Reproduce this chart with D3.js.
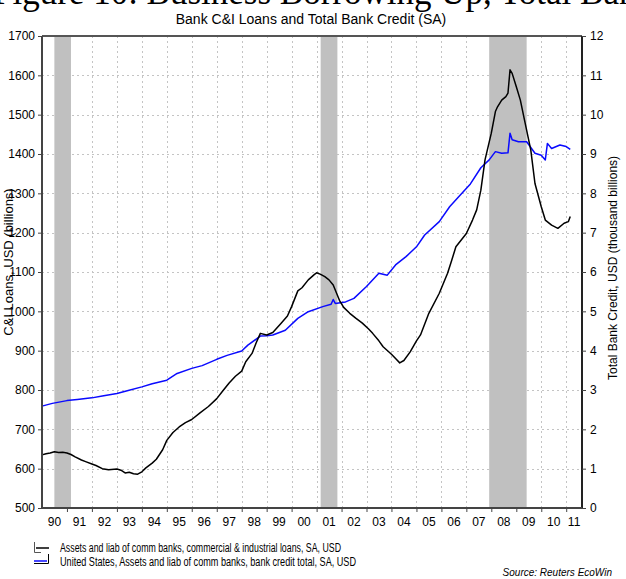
<!DOCTYPE html>
<html>
<head>
<meta charset="utf-8">
<script src="https://cdn.jsdelivr.net/npm/d3@7"></script>
<style>
  html, body { margin: 0; padding: 0; background: #fff; }
  svg { display: block; font-family: "Liberation Sans", Arial, sans-serif; }
</style>
</head>
<body>
<svg id="chart" width="626" height="579"></svg>
<script>
// ---------- DATA ----------
const loanDates = ["1990-01","1990-03","1990-05","1990-07","1990-09","1990-11","1991-01","1991-03","1991-05","1991-08","1991-10",
  "1992-01","1992-03","1992-06","1992-09","1993-01","1993-03","1993-05","1993-07","1993-09","1993-11",
  "1994-01","1994-03","1994-06","1994-08","1994-11","1995-01","1995-04","1995-07","1995-10",
  "1996-01","1996-05","1996-09","1997-01","1997-04","1997-07","1997-10","1998-01","1998-03","1998-06","1998-08","1998-10",
  "1999-01","1999-04","1999-08","1999-11","2000-01","2000-04","2000-06","2000-09","2000-12",
  "2001-01","2001-03","2001-05","2001-07","2001-09","2001-12","2002-02","2002-05","2002-08","2002-11",
  "2003-02","2003-04","2003-07","2003-09","2004-01","2004-03","2004-05","2004-07","2004-10",
  "2005-01","2005-03","2005-07","2005-12","2006-04","2006-06","2006-08","2007-01","2007-04","2007-06","2007-08","2007-10",
  "2008-01","2008-03","2008-04","2008-06","2008-08","2008-09","2008-10","2008-11",
  "2009-01","2009-03","2009-05","2009-08","2009-10","2010-01","2010-03","2010-06","2010-09","2010-12","2011-02","2011-03"];
const loanValues = [635,638,640,643,641,642,640,636,630,622,618,
  612,608,600,597,599,596,589,591,587,586,
  592,602,614,624,648,672,692,706,717,
  725,742,758,778,798,818,835,848,872,893,920,944,
  940,946,970,988,1012,1052,1060,1080,1094,
  1098,1094,1088,1080,1067,1028,1010,995,982,970,
  955,944,925,910,891,880,869,875,897,
  925,940,995,1046,1097,1130,1164,1198,1232,1258,1308,1385,
  1453,1508,1520,1537,1546,1555,1614,1605,
  1571,1537,1486,1410,1325,1266,1232,1219,1211,1224,1228,1241];

const creditDates = ["1990-01","1990-06","1991-01","1991-06","1992-01","1992-06","1993-01","1993-06","1994-01","1994-06",
  "1995-01","1995-06","1996-01","1996-06","1997-01","1997-06","1998-01","1998-04","1998-10",
  "1999-01","1999-04","1999-10","2000-04","2000-09","2001-04","2001-08","2001-09","2001-10",
  "2002-03","2002-07","2003-01","2003-07","2003-11","2004-03","2004-08","2005-01","2005-05","2005-12",
  "2006-05","2006-10","2007-03","2007-08","2007-12","2008-03","2008-06","2008-09","2008-10","2008-11",
  "2009-02","2009-06","2009-10","2010-01","2010-03","2010-04","2010-06","2010-10","2011-01","2011-03"];
const creditValues = [2.59,2.66,2.73,2.76,2.80,2.85,2.91,2.98,3.08,3.16,
  3.25,3.42,3.55,3.62,3.78,3.88,3.99,4.14,4.37,
  4.38,4.40,4.52,4.82,4.99,5.12,5.18,5.30,5.20,
  5.24,5.33,5.63,5.97,5.92,6.18,6.39,6.64,6.94,7.28,
  7.66,7.95,8.24,8.65,8.85,9.06,9.02,9.03,9.53,9.36,
  9.31,9.31,9.02,8.97,8.85,9.27,9.14,9.23,9.19,9.12];

const recessionStarts = ["1990-07","2001-03","2007-12"];
const recessionEnds   = ["1991-03","2001-11","2009-06"];

const leftTicks  = [500,600,700,800,900,1000,1100,1200,1300,1400,1500,1600,1700];
const rightTicks = [0,1,2,3,4,5,6,7,8,9,10,11,12];
const yearLabels = ["90","91","92","93","94","95","96","97","98","99","00","01","02","03","04","05","06","07","08","09","10","11"];

const seriesNames = [
  "Assets and liab of comm banks, commercial & industrial loans, SA, USD",
  "United States, Assets and liab of comm banks, bank credit total, SA, USD"
];

// ---------- CHART ----------
const parse = d3.timeParse("%Y-%m");
const svg = d3.select("#chart");
const L = 42, R = 582, T = 36, B = 508;

const x = d3.scaleTime().domain([new Date(1990,0,1), new Date(2011,7,20)]).range([L, R]);
const yL = d3.scaleLinear().domain([500,1700]).range([B, T]);
const yR = d3.scaleLinear().domain([0,12]).range([B, T]);

// top cropped figure caption (cut off at the page edge, as in the source)
svg.append("text").attr("x", -7).attr("y", 4)
  .attr("font-family", "'Liberation Serif', 'Times New Roman', serif")
  .attr("font-size", 35).attr("fill", "#000")
  .text("Figure 10: Business Borrowing Up, Total Bank Credit Flat");

// chart title
svg.append("text").attr("x", 311).attr("y", 24).attr("text-anchor", "middle")
  .attr("font-size", 14).attr("fill", "#000")
  .text("Bank C&I Loans and Total Bank Credit (SA)");

// gridlines
const grid = svg.append("g").attr("stroke", "#c4c4c4").attr("stroke-width", 1).attr("stroke-dasharray", "2,3");
leftTicks.slice(1, -1).forEach(v => {
  grid.append("line").attr("x1", L).attr("x2", R).attr("y1", Math.round(yL(v)) + 0.5).attr("y2", Math.round(yL(v)) + 0.5);
});
const janTicks = d3.range(1991, 2012).map(y => new Date(y, 0, 1));
janTicks.forEach(d => {
  grid.append("line").attr("x1", Math.round(x(d)) + 0.5).attr("x2", Math.round(x(d)) + 0.5).attr("y1", T).attr("y2", B);
});

// recession shading
svg.append("g").selectAll("rect").data(recessionStarts.map((s, i) => [parse(s), parse(recessionEnds[i])]))
  .join("rect")
  .attr("x", d => x(d[0])).attr("width", d => x(d[1]) - x(d[0]))
  .attr("y", T).attr("height", B - T)
  .attr("fill", "#c0c0c0");

// lines
const loanData = loanDates.map((d, i) => ({ date: parse(d), v: loanValues[i] }));
const creditData = creditDates.map((d, i) => ({ date: parse(d), v: creditValues[i] }));

svg.append("path").datum(creditData)
  .attr("fill", "none").attr("stroke", "#0a0aff").attr("stroke-width", 1.5).attr("stroke-linejoin", "round")
  .attr("d", d3.line().x(d => x(d.date)).y(d => yR(d.v)));
svg.append("path").datum(loanData)
  .attr("fill", "none").attr("stroke", "#000").attr("stroke-width", 1.5).attr("stroke-linejoin", "round")
  .attr("d", d3.line().x(d => x(d.date)).y(d => yL(d.v)));

// frame top
svg.append("line").attr("x1", L).attr("x2", R).attr("y1", T).attr("y2", T).attr("stroke", "#555").attr("stroke-width", 2);

// axes
const axL = svg.append("g").attr("transform", `translate(${L},0)`)
  .call(d3.axisLeft(yL).tickValues(leftTicks).tickSize(4).tickPadding(3).tickFormat(d3.format("d")));
const axR = svg.append("g").attr("transform", `translate(${R},0)`)
  .call(d3.axisRight(yR).tickValues(rightTicks).tickSize(4).tickPadding(4).tickFormat(d3.format("d")));
const axB = svg.append("g").attr("transform", `translate(0,${B})`)
  .call(d3.axisBottom(x).tickValues(janTicks).tickSize(4).tickFormat(""));
[axL, axR, axB].forEach(a => {
  a.select(".domain").attr("stroke", "#444").attr("stroke-width", 2);
  a.selectAll(".tick line").attr("stroke", "#444");
  a.selectAll(".tick text").attr("font-size", 12).attr("fill", "#000").attr("font-family", "'Liberation Sans', Arial, sans-serif");
});
axL.select(".domain").attr("d", `M0,${T}V${B}`);
axR.select(".domain").attr("d", `M0,${T}V${B}`).attr("stroke", "#222");
axB.select(".domain").attr("d", `M${L},0H${R}`);

// year labels centred in the visible part of each year
const [d0, d1] = x.domain();
svg.append("g").selectAll("text").data(yearLabels)
  .join("text")
  .attr("x", (s, i) => {
    const a = new Date(1990 + i, 0, 1), b = new Date(1991 + i, 0, 1);
    const s0 = a < d0 ? d0 : a, s1 = b > d1 ? d1 : b;
    return (x(s0) + x(s1)) / 2;
  })
  .attr("y", 526).attr("text-anchor", "middle").attr("font-size", 12).attr("fill", "#000")
  .text(s => s);

// axis titles
svg.append("text").attr("transform", "translate(13,262) rotate(-90)").attr("text-anchor", "middle")
  .attr("font-size", 13).attr("fill", "#000").text("C&I Loans, USD (billions)");
svg.append("text").attr("transform", "translate(617,268) rotate(-90)").attr("text-anchor", "middle")
  .attr("font-size", 12).attr("fill", "#000").text("Total Bank Credit, USD (thousand billions)");

// legend
const lg = svg.append("g");
lg.append("path").attr("d", "M34.5,542V552.5H41").attr("fill", "none").attr("stroke", "#555").attr("stroke-width", 1);
lg.append("line").attr("x1", 36).attr("x2", 49).attr("y1", 548).attr("y2", 548).attr("stroke", "#000").attr("stroke-width", 1.5);
lg.append("line").attr("x1", 34).attr("x2", 47).attr("y1", 561).attr("y2", 561).attr("stroke", "#0a0aff").attr("stroke-width", 1.5);
lg.append("path").attr("d", "M34,563.5H48.5V554").attr("fill", "none").attr("stroke", "#000").attr("stroke-width", 1);
lg.append("text").attr("x", 60).attr("y", 552).attr("font-size", 12).attr("fill", "#000")
  .attr("textLength", 281).attr("lengthAdjust", "spacingAndGlyphs").text(seriesNames[0]);
lg.append("text").attr("x", 60).attr("y", 566).attr("font-size", 12).attr("fill", "#000")
  .attr("textLength", 296).attr("lengthAdjust", "spacingAndGlyphs").text(seriesNames[1]);

// source
svg.append("text").attr("x", 612).attr("y", 576).attr("text-anchor", "end")
  .attr("font-size", 10).attr("font-style", "italic").attr("fill", "#000")
  .text("Source: Reuters EcoWin");
</script>
</body>
</html>
